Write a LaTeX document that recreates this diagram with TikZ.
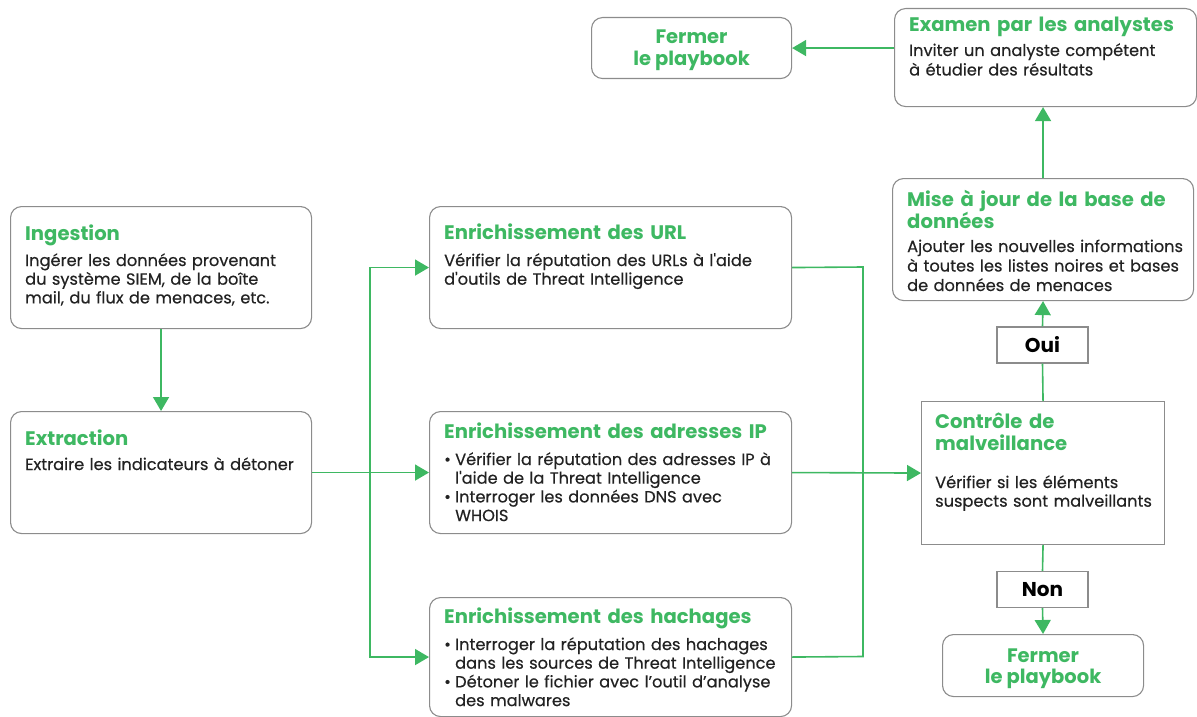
\documentclass[tikz,border=0pt]{standalone}
\usepackage{fontspec}
\setmainfont{Poppins}
\newfontfamily\medfont{Poppins}[FakeBold=0.35]
\usetikzlibrary{arrows.meta}
\definecolor{flowgreen}{RGB}{62,184,98}
\definecolor{boxgray}{RGB}{140,140,140}
\definecolor{bodyink}{RGB}{34,34,34}
\tikzset{
  x=1pt, y=-1pt,
  card/.style={draw=boxgray, line width=1.1pt, rounded corners=11pt, anchor=north west, inner sep=0pt, fill=white},
  sqcard/.style={draw=boxgray, line width=1.1pt, anchor=north west, inner sep=0pt, fill=white},
  ttl/.style={anchor=base west, inner sep=0pt, text width=360pt, text=flowgreen, font=\fontsize{19.6}{22.5}\selectfont\bfseries, align=left},
  body/.style={anchor=base west, inner sep=0pt, text width=360pt, text=bodyink, font=\medfont\fontsize{16.2}{18.7}\selectfont, align=left},
  ctrttl/.style={inner sep=0pt, text=flowgreen, font=\fontsize{19.5}{21.5}\selectfont\bfseries, align=center},
  tag/.style={draw=boxgray, line width=1.1pt, fill=white, inner sep=0pt, minimum width=91pt, minimum height=36pt, font=\fontsize{20}{22}\selectfont\bfseries, text=black},
  link/.style={draw=flowgreen, line width=1.6pt},
  arr/.style={link, -{Triangle[length=14pt,width=16pt]}}
}
\newcommand{\bul}{\makebox[11pt][l]{•}}
\newcommand{\bulsp}{\hspace*{11pt}}
\begin{document}
\begin{tikzpicture}
\useasboundingbox (0,0) rectangle (1197,717);

% boxes
\node[card, minimum width=301pt, minimum height=122pt] (ing) at (10,206) {};
\node[card, minimum width=301pt, minimum height=122pt] (ext) at (10,411) {};
\node[card, minimum width=362pt, minimum height=122pt] (url) at (429,206) {};
\node[card, minimum width=362pt, minimum height=122pt] (ip) at (429,411) {};
\node[card, minimum width=362pt, minimum height=119pt] (hash) at (429,597) {};
\node[sqcard, minimum width=243pt, minimum height=143pt] (ctrl) at (921,401) {};
\node[card, minimum width=301pt, minimum height=122pt] (mise) at (892,178) {};
\node[card, minimum width=302pt, minimum height=98pt] (exam) at (894,8) {};
\node[card, minimum width=200pt, minimum height=61pt] (fer1) at (591,17) {};
\node[card, minimum width=201pt, minimum height=62pt] (fer2) at (942,634) {};

% texts
\node[ttl] (ingT) at (25,240) {Ingestion};
\node[body] (ingB) at (25,266) {Ingérer les données provenant\\du système SIEM, de la boîte\\mail, du flux de menaces, etc.};

\node[ttl] (extT) at (25,445) {Extraction};
\node[body] (extB) at (25,470) {Extraire les indicateurs à détoner};

\node[ttl] (urlT) at (444,239) {Enrichissement des URL};
\node[body] (urlB) at (444,266) {Vérifier la réputation des URLs à l'aide\\d'outils de Threat Intelligence};

\node[ttl] (ipT) at (444,438) {Enrichissement des adresses IP};
\node[body] (ipB) at (444,465) {\bul Vérifier la réputation des adresses IP à\\\bulsp l'aide de la Threat Intelligence\\\bul Interroger les données DNS avec\\\bulsp WHOIS};

\node[ttl] (hashT) at (444,623) {Enrichissement des hachages};
\node[body] (hashB) at (444,650) {\bul Interroger la réputation des hachages\\\bulsp dans les sources de Threat Intelligence\\\bul Détoner le fichier avec l’outil d’analyse\\\bulsp des malwares};

\node[ttl] (ctrlT) at (935,428) {Contrôle de\\malveillance};
\node[body] (ctrlB) at (935,488) {Vérifier si les éléments\\suspects sont malveillants};

\node[ttl] (miseT) at (907,206) {Mise à jour de la base de\\données};
\node[body, font=\medfont\fontsize{16.2}{19.5}\selectfont] (miseB) at (907,252) {Ajouter les nouvelles informations\\à toutes les listes noires et bases\\de données de menaces};

\node[ttl] (examT) at (909,32) {Examen par les analystes};
\node[body, font=\medfont\fontsize{16.2}{19.5}\selectfont] (examB) at (909,56) {Inviter un analyste compétent\\à étudier des résultats};

\node[ctrttl] (fer1T) at ([yshift=-2pt]fer1.center) {Fermer\\le playbook};
\node[ctrttl] (fer2T) at ([yshift=-3pt]fer2.center) {Fermer\\le playbook};

% decision labels
\node[tag] (oui) at (1042.5,345) {Oui};
\node[tag] (non) at (1042.5,589.5) {Non};

% junction points
\coordinate (split) at (370,472);
\coordinate (merge1) at (863,267);
\coordinate (merge2) at (863,656.5);

% connectors
\draw[arr] (ing.south) -- (ext.north);
\draw[arr] (ext.east) -- (ip.west);
\draw[arr] (split) |- (url.west);
\draw[arr] (split) |- (hash.west);
\draw[link] (url.east) -- (merge1) -- (merge2) -- (hash.east);
\draw[arr] (ip.east) -- (ctrl.west);
\draw[link] (ctrl.north) -- (oui.south);
\draw[arr] (oui.north) -- (mise.south);
\draw[arr] (mise.north) -- (mise.north |- exam.south);
\draw[arr] (exam.west |- fer1.east) -- (fer1.east);
\draw[link] (ctrl.south) -- (non.north);
\draw[arr] (non.south) -- (fer2.north);
\end{tikzpicture}
\end{document}
